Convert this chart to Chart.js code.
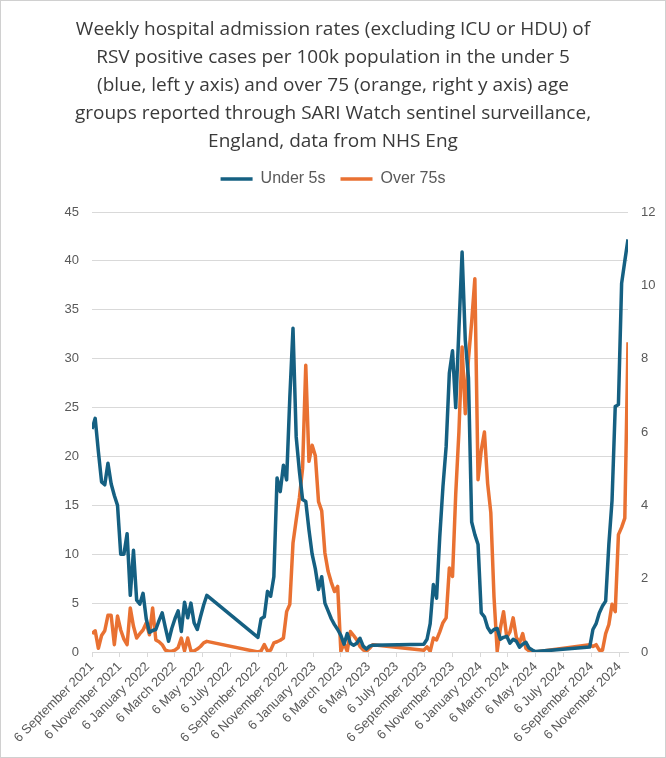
<!DOCTYPE html>
<html>
<head>
<meta charset="utf-8">
<script src="https://cdn.jsdelivr.net/npm/chart.js@4.4.0/dist/chart.umd.min.js"></script>
<style>
  html, body { margin: 0; padding: 0; background: #fff; }
</style>
</head>
<body>
<canvas id="rsvChart" width="666" height="758"></canvas>
<script>
// Weekly RSV admission rates (per 100k), SARI Watch
// each season = first week date + consecutive weekly values
const seasonStarts = ['2021-09-06', '2022-09-05', '2023-09-04', '2024-09-02'];

const under5_2021 = [22.8, 23.9, 20.5, 17.4, 17.1, 19.3, 17.2, 16.0, 15.0, 10.0, 10.0, 12.1, 5.8,
    10.4, 5.3, 4.9, 6.0, 3.4, 2.0, 2.2, 2.3, 3.2, 4.0, 2.5, 1.1, 2.4, 3.4, 4.2, 2.1, 5.1, 3.5,
    5.0, 3.0, 2.3, 3.6, 4.8, 5.8];
const under5_2022 = [1.5, 3.4, 3.6, 6.2, 5.7, 7.7, 17.8, 16.4, 19.1, 17.6, 26.0, 33.1, 22.0,
    18.5, 15.6, 15.4, 12.5, 10.0, 8.5, 6.4, 7.7, 5.0, 4.2, 3.4, 2.8, 2.3, 1.7, 0.8, 1.9, 0.9,
    0.7, 0.9, 1.4, 0.6, 0.3, 0.6, 0.7];
const under5_2023 = [0.8, 1.3, 2.9, 6.9, 5.5, 11.8, 16.9, 21.0, 28.5, 30.8, 25.0, 33.0, 40.9,
    31.9, 28.0, 13.3, 12.0, 11.0, 4.0, 3.6, 2.5, 2.0, 2.3, 2.4, 1.3, 1.5, 1.6, 0.9, 1.3, 1.1,
    0.5, 0.8, 1.0, 0.4, 0.2, 0.05];
const under5_2024 = [0.5, 2.3, 2.9, 4.0, 4.7, 5.2, 11.0, 15.5, 25.1, 25.3, 37.7, 40.0, 42.2];

const over75_2021 = [0.5, 0.58, 0.1, 0.45, 0.58, 1.0, 1.0, 0.2, 0.98, 0.6, 0.35, 0.2, 1.2,
    0.7, 0.38, 0.5, 0.6, 0.79, 0.47, 1.2, 0.33, 0.28, 0.2, 0.05, 0.02, 0.02, 0.05, 0.12, 0.38,
    0.03, 0.38, 0.03, 0.03, 0.08, 0.15, 0.25, 0.29];
const over75_2022 = [0.0, 0.03, 0.2, 0.03, 0.05, 0.25, 0.28, 0.32, 0.38, 1.1, 1.3, 2.97, 3.6,
    4.2, 5.0, 7.82, 5.2, 5.64, 5.35, 4.1, 3.85, 2.7, 2.2, 1.9, 1.65, 1.79, 0.02, 0.24, 0.02,
    0.56, 0.45, 0.33, 0.15, 0.06, 0.02, 0.1, 0.2];
const over75_2023 = [0.05, 0.14, 0.02, 0.38, 0.33, 0.55, 0.8, 0.93, 2.29, 2.06, 4.3, 6.0, 8.32,
    6.5, 8.0, 9.0, 10.18, 4.7, 5.5, 6.0, 4.6, 3.8, 1.5, 0.02, 0.65, 1.1, 0.4, 0.55, 0.93, 0.4,
    0.25, 0.5, 0.1, 0.03, 0.02, 0.0];
const over75_2024 = [0.2, 0.15, 0.2, 0.05, 0.05, 0.5, 0.75, 1.3, 1.1, 3.2, 3.4, 3.65, 8.45];

const tickDates = ['2021-09-06', '2021-11-06', '2022-01-06', '2022-03-06', '2022-05-06',
    '2022-07-06', '2022-09-06', '2022-11-06', '2023-01-06', '2023-03-06', '2023-05-06',
    '2023-07-06', '2023-09-06', '2023-11-06', '2024-01-06', '2024-03-06', '2024-05-06',
    '2024-07-06', '2024-09-06', '2024-11-06'];
const tickLabels = ['6 September 2021', '6 November 2021', '6 January 2022', '6 March 2022',
    '6 May 2022', '6 July 2022', '6 September 2022', '6 November 2022', '6 January 2023',
    '6 March 2023', '6 May 2023', '6 July 2023', '6 September 2023', '6 November 2023',
    '6 January 2024', '6 March 2024', '6 May 2024', '6 July 2024', '6 September 2024',
    '6 November 2024'];

const leftTicks = { min: 0, max: 45, step: 5 };
const rightTicks = { min: 0, max: 12, step: 2 };

const DAY0 = Date.UTC(2021, 8, 6);

// days since first week
function dayNum(iso) {
    const p = iso.split('-').map(Number);
    return Math.round((Date.UTC(p[0], p[1] - 1, p[2]) - DAY0) / 86400000);
}

function buildSeries(seasons) {
    const pts = [];
    seasons.forEach((vals, s) => {
        const start = dayNum(seasonStarts[s]);
        vals.forEach((v, i) => pts.push({ x: start + i * 7, y: v }));
    });
    return pts;
}

const blueData = buildSeries([under5_2021, under5_2022, under5_2023, under5_2024]);
const orangeData = buildSeries([over75_2021, over75_2022, over75_2023, over75_2024]);
const lastDay = blueData[blueData.length - 1].x;

const GREY = '#595959';
const GRID = '#d9d9d9';

// white background + thin frame like the Excel chart area
const framePlugin = {
    id: 'frame',
    beforeDraw(chart) {
        const c = chart.ctx;
        c.save();
        c.fillStyle = '#fff';
        c.fillRect(0, 0, chart.width, chart.height);
        c.strokeStyle = '#d0d0d0';
        c.lineWidth = 1;
        c.strokeRect(0.5, 0.5, chart.width - 1, chart.height - 1);
        c.restore();
    }
};

// extra space between legend and plot
const legendGap = {
    id: 'legendGap',
    beforeInit(chart) {
        const fit = chart.legend.fit;
        chart.legend.fit = function () {
            fit.bind(chart.legend)();
            this.height += 15;
        };
    }
};

const ctx = document.getElementById('rsvChart').getContext('2d');
new Chart(ctx, {
    type: 'line',
    data: {
        datasets: [{
            label: 'Under 5s',
            data: blueData,
            yAxisID: 'y',
            borderColor: '#156082',
            backgroundColor: '#156082',
            borderWidth: 3.5,
            pointRadius: 0,
            tension: 0,
            borderJoinStyle: 'round'
        }, {
            label: 'Over 75s',
            data: orangeData,
            yAxisID: 'y1',
            borderColor: '#e97132',
            backgroundColor: '#e97132',
            borderWidth: 3.5,
            pointRadius: 0,
            tension: 0,
            borderJoinStyle: 'round'
        }]
    },
    options: {
        responsive: false,
        animation: false,
        layout: { padding: 0 },
        plugins: {
            title: {
                display: true,
                text: [
                    'Weekly hospital admission rates (excluding ICU or HDU) of',
                    'RSV positive cases per 100k population in the under 5',
                    '(blue, left y axis) and over 75 (orange, right y axis) age',
                    'groups reported through SARI Watch sentinel surveillance,',
                    'England, data from NHS Eng'
                ],
                color: '#3a3a3a',
                font: { family: 'Open Sans', size: 19, weight: 'normal', lineHeight: 1.4737 },
                padding: { top: 16, bottom: 0 }
            },
            legend: {
                labels: {
                    usePointStyle: true,
                    pointStyle: 'line',
                    pointStyleWidth: 32,
                    color: GREY,
                    padding: 15,
                    font: { family: 'Liberation Sans', size: 16 }
                }
            },
            tooltip: { enabled: false }
        },
        scales: {
            x: {
                type: 'linear',
                min: 0,
                max: lastDay,
                afterBuildTicks(scale) {
                    scale.ticks = tickDates.map(d => ({ value: dayNum(d) }));
                },
                afterFit(scale) { scale.height = 106; },
                ticks: {
                    autoSkip: false,
                    minRotation: 45,
                    maxRotation: 45,
                    color: GREY,
                    padding: 2,
                    font: { family: 'Liberation Sans', size: 13 },
                    callback: (v, i) => tickLabels[i]
                },
                grid: { drawOnChartArea: false, color: GRID, tickLength: 5 },
                border: { color: GRID }
            },
            y: {
                position: 'left',
                min: leftTicks.min,
                max: leftTicks.max,
                afterFit(scale) { scale.width = 92; },
                ticks: {
                    stepSize: leftTicks.step,
                    color: GREY,
                    padding: 13,
                    font: { family: 'Liberation Sans', size: 13 }
                },
                grid: { color: GRID, drawTicks: false },
                border: { display: false }
            },
            y1: {
                position: 'right',
                min: rightTicks.min,
                max: rightTicks.max,
                afterFit(scale) { scale.width = 38; },
                ticks: {
                    stepSize: rightTicks.step,
                    color: GREY,
                    padding: 13,
                    font: { family: 'Liberation Sans', size: 13 }
                },
                grid: { drawOnChartArea: false, drawTicks: false },
                border: { display: false }
            }
        }
    },
    plugins: [framePlugin, legendGap]
});
</script>
</body>
</html>
